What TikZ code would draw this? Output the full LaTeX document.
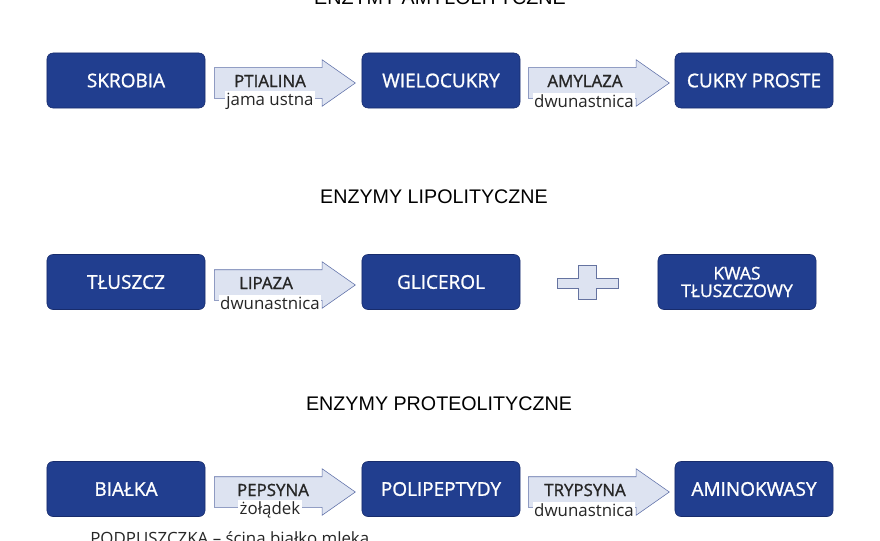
\documentclass[tikz,border=0pt]{standalone}
\usepackage{fontspec}
\setmainfont{Open Sans}
\newfontfamily\headfont{Liberation Sans}
\newfontfamily\boxfont[FakeBold=1.2]{Open Sans}
\usetikzlibrary{positioning,shapes.arrows,calc}
\definecolor{boxblue}{RGB}{33,62,143}
\definecolor{boxedge}{RGB}{24,44,108}
\definecolor{arrfill}{RGB}{221,227,241}
\definecolor{arredge}{RGB}{95,112,168}

\begin{document}
\begin{tikzpicture}[
  x=0.025cm, y=-0.025cm,
  box/.style={draw=boxedge, fill=boxblue, rounded corners=1.5mm, minimum width=3.95cm, minimum height=1.375cm, align=center, text=white, font=\boxfont\fontsize{13.5}{13.5}\selectfont},
  flow/.style={single arrow, draw=arredge, fill=arrfill, minimum height=3.525cm, inner xsep=0pt, inner ysep=0.375cm, single arrow head extend=0.2cm, single arrow tip angle=70, anchor=tail},
  enz/.style={font=\boxfont\fontsize{12}{12}\selectfont, text=black!85, inner sep=0pt},
  site/.style={font=\fontsize{12}{12}\selectfont, text=black!85, fill=white, inner sep=1pt},
  head/.style={font=\headfont\fontsize{14}{14}\selectfont}
]
\useasboundingbox (0,0) rectangle (880,540);
\clip (0,0) rectangle (880,540);

% amylolytic
\node[head, anchor=base] (tamyl) at (440,4) {ENZYMY AMYLOLITYCZNE};
\node[box] (skrobia) at (126,80.5) {SKROBIA};
\node[flow] (ptialina) at (214,83) {};
\node[box] (wielocukry) at (441,80.5) {WIELOCUKRY};
\node[flow] (amylaza) at (528,83) {};
\node[box] (proste) at (754,80.5) {CUKRY PROSTE};
\node[enz] (ptialinat) at ($(ptialina.tail)+(56,-2)$) {PTIALINA};
\node[site] (jama) at ($(ptialina.tail)+(56,18)$) {jama ustna};
\node[enz] (amylazat) at ($(amylaza.tail)+(57,-2)$) {AMYLAZA};
\node[site] (dwun1) at ($(amylaza.tail)+(56,18)$) {dwunastnica};

% lipolytic
\node[head] (tlipo) at (434,197) {ENZYMY LIPOLITYCZNE};
\node[box] (tluszcz) at (126,282) {TŁUSZCZ};
\node[flow] (lipaza) at (214,285) {};
\node[box] (glicerol) at (441,282) {GLICEROL};
\node[box, font=\boxfont\fontsize{12.5}{12.5}\selectfont] (kwas) at (737,282) {KWAS\\TŁUSZCZOWY};
\node[enz] (lipazat) at ($(lipaza.tail)+(52,-2)$) {LIPAZA};
\node[site] (dwun2) at ($(lipaza.tail)+(56,18)$) {dwunastnica};
\coordinate (plus) at (557,278);
\draw[draw=arredge!80!gray, fill=arrfill] (plus) -- ++(21,0) -- ++(0,-13) -- ++(18,0) -- ++(0,13) -- ++(22,0) -- ++(0,10) -- ++(-22,0) -- ++(0,11) -- ++(-18,0) -- ++(0,-11) -- ++(-21,0) -- cycle;

% proteolytic
\node[head] (tprot) at (439,404) {ENZYMY PROTEOLITYCZNE};
\node[box] (bialka) at (126,489) {BIAŁKA};
\node[flow] (pepsyna) at (214,492) {};
\node[box] (polipep) at (441,489) {POLIPEPTYDY};
\node[flow] (trypsyna) at (528,492) {};
\node[box] (amino) at (754,489) {AMINOKWASY};
\node[enz] (pepsynat) at ($(pepsyna.tail)+(59,-2)$) {PEPSYNA};
\node[site] (zoladek) at ($(pepsyna.tail)+(56,18)$) {żołądek};
\node[enz] (trypsynat) at ($(trypsyna.tail)+(57,-2)$) {TRYPSYNA};
\node[site] (dwun3) at ($(trypsyna.tail)+(56,18)$) {dwunastnica};
\node[site, fill=none, inner sep=0pt, anchor=base west] (podp) at (90,544) {PODPUSZCZKA – ścina białko mleka};
\end{tikzpicture}
\end{document}
